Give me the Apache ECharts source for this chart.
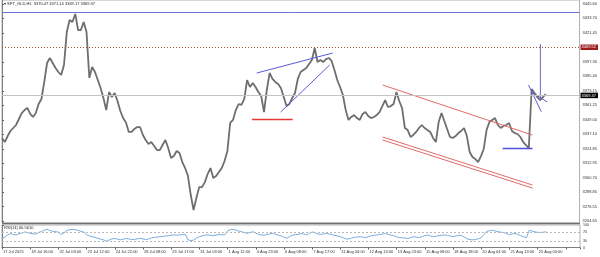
<!DOCTYPE html>
<html><head><meta charset="utf-8">
<script src="https://cdn.jsdelivr.net/npm/echarts@6/dist/echarts.min.js"></script>
<style>html,body{margin:0;padding:0;background:#fff}#c{width:600px;height:257px}</style>
</head><body><div id="c"></div>
<script>
const xTickLabels = ["17 Jul 2025","18 Jul 16:00","22 Jul 03:00","23 Jul 12:00","24 Jul 22:00","28 Jul 08:00","29 Jul 17:00","31 Jul 03:00","1 Aug 12:00","4 Aug 23:00","6 Aug 08:00","7 Aug 17:00","11 Aug 04:00","12 Aug 13:00","13 Aug 23:00","15 Aug 08:00","18 Aug 18:00","20 Aug 04:00","21 Aug 13:00","25 Aug 00:00"];
const priceTickLabels = [3445.60,3433.70,3421.45,3397.30,3385.40,3373.15,3361.25,3349.00,3337.10,3324.85,3312.95,3300.70,3288.85,3276.55,3264.65];
const rsiTickLabels = [0,30,70,100];
const rsiLevels = [30,70];
const lastPrice = 3369.37;
const alertPrice = 3409.52;
const resistancePrice = 3438.52;
const headerText = "SPT_GLD,H1  3370.47 3371.14 3369.17 3369.37";
const rsiLabelText = "RSI(14) 60.5610";

const closePrices = [
3333.9,3330.5,3335.5,3339.7,3342.2,3344.7,3349.7,3354.7,3357.2,3358.9,
3353.9,3351.4,3354.7,3362.2,3366.4,3380.6,3396.4,3400.6,3396.4,3392.2,
3388.9,3386.4,3394.7,3422.2,3432.3,3430.6,3437.3,3423.9,3423.9,3430.6,
3422.2,3383.9,3393.1,3388.9,3382.2,3375.6,3367.2,3357.2,3372.2,3368.0,
3371.4,3364.7,3356.4,3350.5,3346.7,3338.9,3338.9,3341.4,3343.0,3343.0,
3336.4,3332.2,3328.8,3330.5,3327.2,3323.8,3323.8,3328.0,3332.2,3325.5,
3317.2,3318.8,3323.0,3321.3,3313.8,3308.8,3302.2,3286.3,3273.8,3283.8,
3292.9,3292.9,3297.1,3303.8,3308.8,3300.5,3302.2,3305.5,3308.8,3314.7,
3323.0,3346.4,3348.9,3357.2,3362.2,3361.4,3366.4,3382.2,3376.4,3379.7,
3376.4,3372.2,3368.9,3355.5,3373.9,3388.1,3383.1,3380.6,3378.9,3375.6,
3368.0,3360.5,3362.2,3367.2,3371.4,3383.1,3388.9,3390.6,3392.2,3395.6,
3398.9,3408.9,3397.2,3398.9,3397.2,3399.7,3400.6,3398.1,3390.6,3382.2,
3376.4,3369.7,3357.2,3348.9,3351.4,3353.0,3350.5,3348.9,3353.9,3355.5,
3352.2,3350.5,3351.4,3353.0,3355.5,3360.5,3365.5,3359.7,3360.5,3362.2,
3372.2,3364.7,3358.9,3342.2,3340.5,3334.7,3336.4,3338.9,3342.2,3344.7,
3342.2,3340.5,3338.9,3333.9,3330.5,3347.2,3354.7,3348.0,3341.4,3334.7,
3333.9,3335.5,3338.0,3339.7,3342.2,3335.5,3322.2,3318.0,3316.3,3313.8,
3318.8,3324.7,3340.5,3347.2,3348.9,3350.5,3344.7,3342.2,3343.9,3344.7,
3346.4,3339.7,3338.0,3337.2,3334.7,3330.5,3328.0,3325.5,3374.7,3371.4,
3368.0,3365.5,3368.0,3370.5
];
const rsiValues = [
39,47,56,62,58,56,61,64,69,67,
63,61,60,67,71,77,81,76,72,71,
68,58,65,76,79,81,79,76,72,68,
57,51,48,45,41,37,34,28,33,39,
40,37,34,37,40,38,35,36,39,41,
38,35,38,43,45,46,48,49,51,52,
55,56,55,56,57,58,34,31,33,43,
48,52,55,56,54,53,55,58,57,56,
74,79,81,77,73,70,66,63,67,70,
64,58,56,55,58,61,63,59,55,52,
46,41,48,55,57,58,62,60,56,63,
69,66,60,58,60,63,60,57,54,51,
48,43,38,38,42,45,47,48,46,44,
48,52,54,56,58,60,62,59,55,52,
47,44,43,42,40,44,48,46,44,48,
53,55,51,48,50,53,54,56,54,51,
48,51,55,53,46,38,35,34,36,39,
44,58,72,75,77,73,70,68,66,62,
57,60,63,58,52,48,43,77,73,70,
67,67,68,70
];

const wedgeUpperLine = [[90.4,3388.05],[117.4,3404.73]];
const wedgeLowerLine = [[98.9,3355.5],[116.3,3394.7]];
const redSupportLine = [[88.7,3349.29],[103.2,3349.29]];
const channelUpperLine = [[135.1,3378.05],[188.3,3336.35]];
const channelLowerLine1 = [[135.1,3334.7],[188.3,3294.65]];
const channelLowerLine2 = [[135.1,3332.2],[188.3,3292.1]];
const blueSupportLine = [[177.7,3325.11],[188.3,3325.11]];
const flagLineA = [[186.9,3378.0],[191.4,3355.8]];
const flagLineB = [[188.0,3372.0],[193.5,3364.0]];
const spikeLine = [[191.1,3412.25],[191.1,3365.5]];

const nCats = 206;
const FONT = 'Liberation Sans';

function drawing(pts, color, w) {
  return {type:'line', xAxisIndex:0, yAxisIndex:0, showSymbol:false, silent:true, z:3,
    data: pts, lineStyle:{color:color, width:w||1}, itemStyle:{color:color}};
}

const chart = echarts.init(document.getElementById('c'), null, {renderer:'canvas'});
chart.setOption({
  animation:false,
  backgroundColor:'#ffffff',
  grid:[
    {left:2, top:0, width:578, height:223, show:true, borderColor:'#b0b0b0', borderWidth:1},
    {left:2, top:225, width:578, height:22.5, show:true, borderColor:'#b0b0b0', borderWidth:1}
  ],
  xAxis:[
    {type:'value', gridIndex:0, min:0, max:nCats-1, show:false},
    {type:'value', gridIndex:1, min:0, max:nCats-1, interval:10,
     axisLine:{show:true, onZero:false, lineStyle:{color:'#808080'}},
     axisTick:{show:true, length:2, inside:false, lineStyle:{color:'#606060'}},
     splitLine:{show:false},
     axisLabel:{show:true, fontSize:4, fontFamily:FONT, color:'#333', margin:2, align:'left', padding:[0,0,0,1],
       formatter:function(v){ const k=Math.round(v/10); return (v%10===0 && xTickLabels[k])? xTickLabels[k] : ''; }}}
  ],
  yAxis:[
    {type:'value', gridIndex:0, position:'right', min:3262.98, max:3448.94,
     axisLine:{show:true, lineStyle:{color:'#808080'}},
     axisTick:{show:true, length:2, customValues:priceTickLabels, lineStyle:{color:'#606060'}},
     splitLine:{show:false},
     axisLabel:{show:true, customValues:priceTickLabels, fontSize:4, fontFamily:FONT, color:'#333', margin:3,
       formatter:function(v){return v.toFixed(2);}}},
    {type:'value', gridIndex:1, position:'right', min:0, max:100,
     axisLine:{show:true, lineStyle:{color:'#808080'}},
     axisTick:{show:true, length:2, customValues:rsiTickLabels, lineStyle:{color:'#606060'}},
     splitLine:{show:false},
     axisLabel:{show:true, customValues:rsiTickLabels, fontSize:3.6, fontFamily:FONT, color:'#333', margin:3}}
  ],
  series:[
    {type:'line', xAxisIndex:0, yAxisIndex:0, showSymbol:false, silent:true, z:2,
     data: closePrices.map(function(v,i){return [i,v];}),
     lineStyle:{color:'#6e6e6e', width:1.8},
     markLine:{silent:true, symbol:['none','none'], animation:false,
       data:[
         {yAxis:resistancePrice, lineStyle:{color:'#7070d0', type:'solid', width:1}, label:{show:false}},
         {yAxis:alertPrice, lineStyle:{color:'#a0522d', type:[1,2], width:1},
          label:{show:true, position:'end', distance:1, formatter:function(){return alertPrice.toFixed(2);}, color:'#fff', backgroundColor:'#9b1c1c', fontSize:4, fontFamily:FONT, padding:[1,2,0.5,1]}},
         {yAxis:lastPrice, lineStyle:{color:'#c4c4c4', type:'solid', width:1},
          label:{show:true, position:'end', distance:1, formatter:function(){return lastPrice.toFixed(2);}, color:'#fff', backgroundColor:'#000', fontSize:4, fontFamily:FONT, padding:[1,2,0.5,1]}}
       ]
     }},
    drawing(wedgeUpperLine,'#5a5ad8'),
    drawing(wedgeLowerLine,'#5a5ad8'),
    drawing(redSupportLine,'#e83838',1.6),
    drawing(channelUpperLine,'#e06a6a'),
    drawing(channelLowerLine1,'#e06a6a'),
    drawing(channelLowerLine2,'#e06a6a'),
    drawing(blueSupportLine,'#4f4fe0',1.6),
    drawing(flagLineA,'#5a5ad8'),
    drawing(flagLineB,'#5a5ad8'),
    drawing(spikeLine,'#6a6ad0'),
    {type:'line', xAxisIndex:1, yAxisIndex:1, showSymbol:false, silent:true,
     data: rsiValues.map(function(v,i){return [i,v];}),
     lineStyle:{color:'#78aee0', width:1},
     markLine:{silent:true, symbol:['none','none'], label:{show:false},
       data: rsiLevels.map(function(v){return {yAxis:v, lineStyle:{color:'#b8b8b8', type:[2,2], width:1}};})}}
  ],
  graphic:[
    {type:'text', left:4, top:2, style:{text:'▾ '+headerText, fontSize:4, fontFamily:FONT, fill:'#222'}},
    {type:'text', left:4, top:226, style:{text:rsiLabelText, fontSize:4, fontFamily:FONT, fill:'#222'}},
    {type:'line', shape:{x1:2, y1:223.5, x2:580, y2:223.5}, style:{stroke:'#707070', lineWidth:1.5}}
  ]
});
</script>
</body></html>
